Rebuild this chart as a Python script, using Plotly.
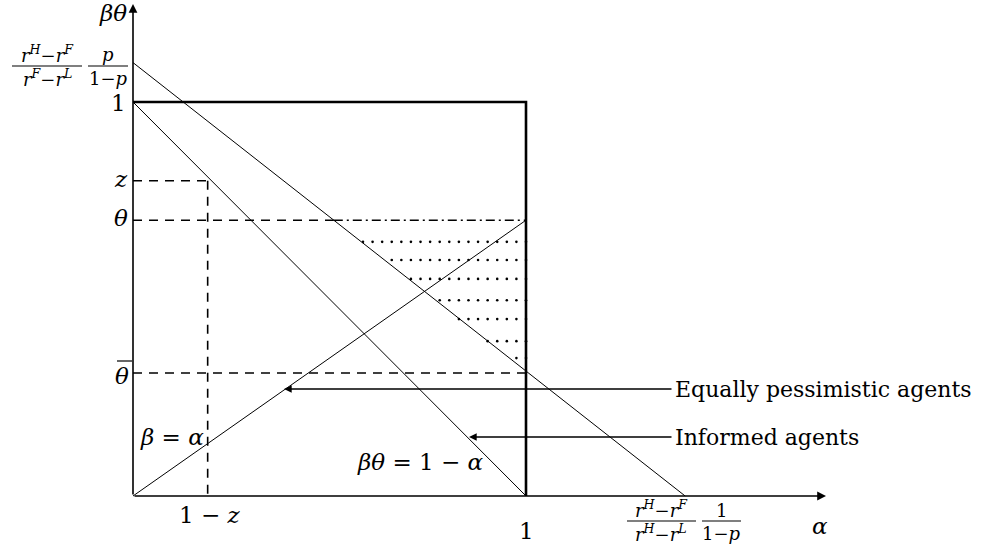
import numpy as np
import plotly.graph_objects as go

# ---- values (data units: alpha on x, beta*theta on y) ----
theta_hi = 0.70          # theta (upper dashed level / end of beta=alpha line)
theta_lo = 0.312         # theta-bar (lower dashed level)
z_level = 0.80           # z
one_minus_z = 0.19       # 1 - z on alpha axis
upper_y_int = 1.10       # (rH-rF)/(rF-rL) * p/(1-p)
upper_x_int = 1.405      # (rH-rF)/(rH-rL) * 1/(1-p)
dot_rows = [0.645, 0.599, 0.551, 0.497, 0.449, 0.393, 0.350]   # dotted shading rows
dot_step = 0.0244

# ---- pixel -> data helpers (figure 991x547, origin at pixel (133,496)) ----
X0, Y0, SX, SY = 133.0, 496.0, 393.0, 394.0
def dx(p):
    return (p - X0) / SX
def dy(p):
    return (Y0 - p) / SY

W, H = 991, 547
FONT = "DejaVu Serif"
BIG = 22
MATH = 23
SMALL = 18

def upper(a):
    return upper_y_int * (1 - a / upper_x_int)
def upper_inv(b):
    return upper_x_int * (1 - b / upper_y_int)

fig = go.Figure()
def line(xs, ys, width=1.0, dash="solid"):
    fig.add_trace(go.Scatter(x=xs, y=ys, mode="lines",
                             line=dict(color="black", width=width, dash=dash),
                             hoverinfo="skip", showlegend=False))

# main lines
line([0, upper_x_int], [upper(0), upper(upper_x_int)], 1.0)      # upper line
line([0, 1], [1, 0], 1.0)                                        # beta*theta = 1 - alpha
line([0, 1], [0, theta_hi], 1.0)                                 # beta = alpha
# box
line([0, 1, 1], [1, 1, 0], 2.6)
# dashed guides
line([0, one_minus_z], [z_level, z_level], 1.6, "9px,7px")
line([one_minus_z, one_minus_z], [z_level, 0], 1.6, "9px,7px")
xc = upper_inv(theta_hi)
line([0, xc], [theta_hi, theta_hi], 1.6, "9px,7px")
line([xc, 1], [theta_hi, theta_hi], 1.6, "9px,4px,2px,4px")
line([0, 1], [theta_lo, theta_lo], 1.6, "9px,7px")

# dotted shading
dxs, dys = [], []
for r in dot_rows:
    k = 1
    while True:
        a = 1 - k * dot_step
        if a < upper_inv(r) - 0.004:
            break
        dxs.append(a); dys.append(r)
        k += 1
    dxs.append(1.0); dys.append(r)
fig.add_trace(go.Scatter(x=dxs, y=dys, mode="markers",
                         marker=dict(color="black", size=2.6),
                         hoverinfo="skip", showlegend=False))

ann = []
def arrow(hx, hy, tx, ty, width=1.5, head=2, size=1.0):
    ann.append(dict(x=hx, y=hy, ax=tx, ay=ty, xref="x", yref="y", axref="x", ayref="y",
                    text="", showarrow=True, arrowhead=head, arrowwidth=width,
                    arrowsize=size, arrowcolor="black"))
def text(px, py, s, size=BIG, xanchor="center", yanchor="middle"):
    ann.append(dict(x=dx(px), y=dy(py), xref="x", yref="y", text=s, showarrow=False,
                    font=dict(family=FONT, size=size, color="black"),
                    xanchor=xanchor, yanchor=yanchor))

# axes with arrows
arrow(0, dy(4), 0, 0, 1.6, 2, 1.1)
arrow(dx(826), 0, 0, 0, 1.6, 2, 1.1)

# pointer arrows
arrow(dx(284), dy(389), dx(673), dy(389), 1.4, 2, 1.1)
arrow(dx(469), dy(437), dx(673), dy(437), 1.4, 2, 1.1)

# labels
text(113, 13, "<i>βθ</i>", MATH)
text(820, 526, "<i>α</i>", MATH)
text(128, 103, "1", MATH, xanchor="right")
text(130, 179, "<i>z</i>", MATH, xanchor="right")
text(130, 218, "<i>θ</i>", MATH, xanchor="right")
text(131, 376, "<i>θ</i>", MATH, xanchor="right")
text(210, 515, "1 − <i>z</i>", MATH)
text(526, 531, "1", MATH)
text(172, 437, "<i>β</i> = <i>α</i>", MATH)
text(420, 462, "<i>βθ</i> = 1 − <i>α</i>", MATH)
text(673, 389, "Equally pessimistic agents", BIG, xanchor="left")
text(673, 437, "Informed agents", BIG, xanchor="left")

# fraction on beta*theta axis
text(47, 54, "<i>r</i><sup><i>H</i></sup>−<i>r</i><sup><i>F</i></sup>", SMALL)
text(47, 78, "<i>r</i><sup><i>F</i></sup>−<i>r</i><sup><i>L</i></sup>", SMALL)
text(108, 54, "<i>p</i>", SMALL)
text(108, 78, "1−<i>p</i>", SMALL)
# fraction on alpha axis
text(661, 509, "<i>r</i><sup><i>H</i></sup>−<i>r</i><sup><i>F</i></sup>", SMALL)
text(661, 533, "<i>r</i><sup><i>H</i></sup>−<i>r</i><sup><i>L</i></sup>", SMALL)
text(721, 510, "1", SMALL)
text(721, 533, "1−<i>p</i>", SMALL)

shapes = []
for (x1, x2, yy) in [(12, 82, 66), (88, 128, 66), (627, 696, 521), (702, 741, 521), (117, 132, 361)]:
    shapes.append(dict(type="line", xref="x", yref="y", x0=dx(x1), x1=dx(x2), y0=dy(yy), y1=dy(yy),
                       line=dict(color="black", width=1.2)))

fig.update_layout(
    width=W, height=H, margin=dict(l=0, r=0, t=0, b=0),
    paper_bgcolor="white", plot_bgcolor="white",
    xaxis=dict(range=[dx(0), dx(W)], visible=False, fixedrange=True),
    yaxis=dict(range=[dy(H), dy(0)], visible=False, fixedrange=True),
    annotations=ann, shapes=shapes, showlegend=False,
)
fig.write_html("out.html", config={"displayModeBar": False},
               post_script="document.body.style.margin='0';document.body.style.overflow='hidden';")
